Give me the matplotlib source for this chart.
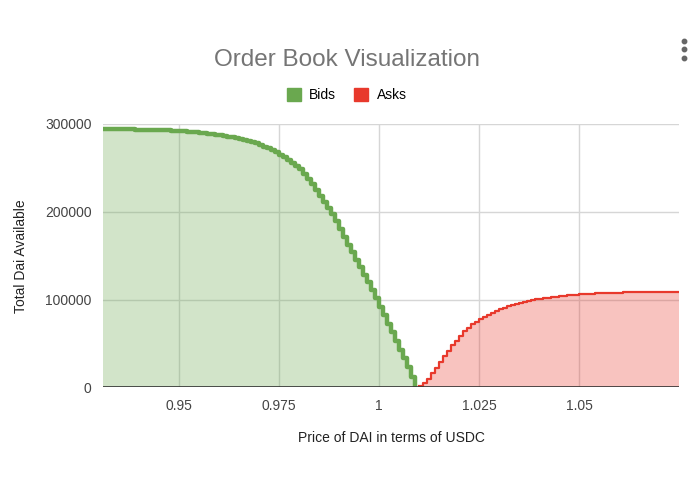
import numpy as np
import matplotlib
matplotlib.use("Agg")
import matplotlib.pyplot as plt
from matplotlib.patches import Patch
from matplotlib.lines import Line2D

plt.rcParams['font.family'] = ['Liberation Sans', 'DejaVu Sans']

# price grid (one level every 0.001)
tick = 0.001
bid_start = 0.931
ask_start = 1.010

# cumulative depth, in Dai (thousands)
bids_k = [294.5, 294.4, 294.3, 294.2, 294.1, 294.0, 293.9, 293.8, 293.7, 293.6,
          293.5, 293.4, 293.3, 293.2, 293.0, 292.8, 292.6, 292.4, 292.2, 292.0,
          291.6, 291.2, 290.8, 290.4, 290.0, 289.5, 289.0, 288.4, 287.8, 287.1,
          286.4, 285.6, 284.8, 284.0, 283.0, 281.9, 280.7, 279.3, 277.8, 276.1,
          274.2, 272.1, 269.9, 267.6, 265.0, 262.2, 259.2, 256.0, 252.6, 248.5,
          243.0, 237.5, 231.5, 225.0, 218.3, 211.5, 204.5, 197.3, 189.4, 180.2,
          171.0, 162.6, 154.2, 145.7, 137.2, 128.6, 119.9, 110.8, 101.4, 91.8,
          82.1, 72.4, 62.7, 53.0, 43.2, 33.4, 23.5, 12.5, 0.0]
asks_k = [2.0, 5.5, 10.0, 16.0, 22.5, 29.0, 35.5, 42.0, 48.0, 53.5,
          59.0, 63.8, 68.0, 71.8, 75.0, 77.8, 80.5, 83.0, 85.3, 87.4,
          89.3, 91.0, 92.6, 94.0, 95.3, 96.5, 97.6, 98.6, 99.5, 100.3,
          101.0, 101.7, 102.3, 102.9, 103.4, 103.9, 104.4, 104.8, 105.2, 105.6,
          106.0, 106.3, 106.6, 106.9, 107.1, 107.3, 107.5, 107.7, 107.9, 108.0,
          108.1, 108.2, 108.3, 108.4, 108.5, 108.6, 108.7, 108.8, 108.8, 108.9,
          108.9, 109.0, 109.0, 109.1, 109.1, 109.1]

x_ticks = [0.95, 0.975, 1.0, 1.025, 1.05]
x_labels = ['0.95', '0.975', '1', '1.025', '1.05']
y_ticks = [0, 100000, 200000, 300000]

bid_px = bid_start + tick * np.arange(len(bids_k))
ask_px = ask_start + tick * np.arange(len(asks_k))
bids = np.array(bids_k) * 1000
asks = np.array(asks_k) * 1000

green = '#6aa84f'
red = '#e8392c'

fig = plt.figure(figsize=(6.95, 4.94), dpi=100)
ax = fig.add_axes([0.148, 0.2156, 0.829, 0.5334])

ax.fill_between(bid_px, bids, step='post', color=green, alpha=0.3, lw=0)
ax.step(bid_px, bids, where='post', color=green, lw=3.2)
ax.fill_between(ask_px, asks, step='post', color=red, alpha=0.3, lw=0)
ax.step(ask_px, asks, where='post', color=red, lw=1.6)

ax.set_xlim(0.9311, 1.0749)
ax.set_ylim(0, 300000)
ax.set_xticks(x_ticks)
ax.set_xticklabels(x_labels)
ax.set_yticks(y_ticks)
ax.set_yticklabels([str(v) for v in y_ticks])
ax.grid(True, color='#d6d6d6', lw=1)
ax.set_axisbelow(True)
for s in ax.spines.values():
    s.set_visible(False)
ax.axhline(0, color='#333333', lw=1.2, zorder=5)
ax.tick_params(length=0, labelsize=10, colors='#444444', pad=8)

ax.set_xlabel('Price of DAI in terms of USDC', fontsize=10, color='#222222', labelpad=13)
ax.set_ylabel('Total Dai Available', fontsize=10, color='#222222', labelpad=12)

fig.text(0.5, 0.878, 'Order Book Visualization', ha='center', va='center',
         fontsize=17.5, color='#757575')
handles = [Patch(color=green, label='Bids'), Patch(color=red, label='Asks')]
fig.legend(handles=handles, loc='center', bbox_to_anchor=(0.499, 0.807), ncol=2,
           frameon=False, fontsize=10, handlelength=1.0, handleheight=1.0,
           columnspacing=1.3, handletextpad=0.6)

# menu icon (three dots) in the top-right corner
fig.add_artist(Line2D([0.984, 0.984, 0.984], [0.918, 0.9, 0.882], transform=fig.transFigure,
                      ls='none', marker='o', ms=3.2, color='#666666'))

fig.savefig('out.png', dpi=100)
